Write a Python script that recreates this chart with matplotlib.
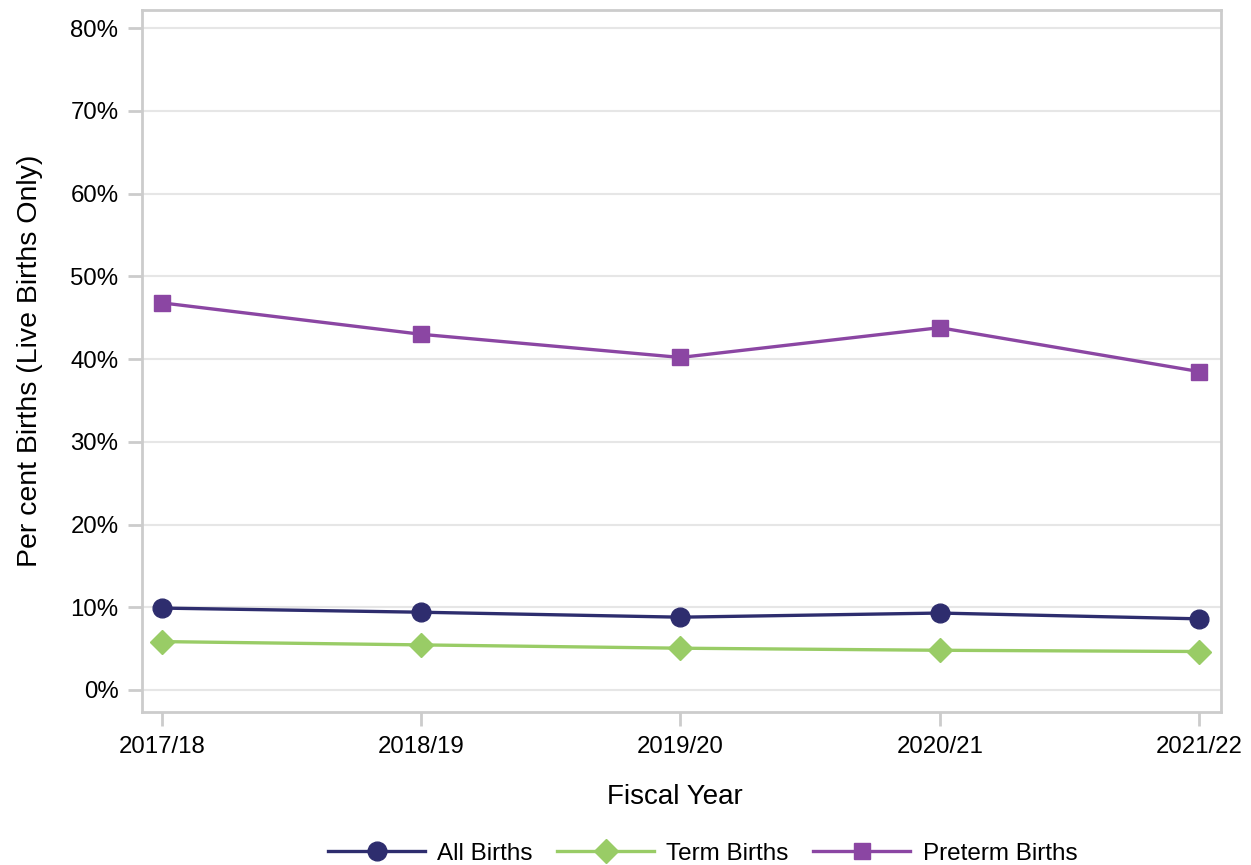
import matplotlib.pyplot as plt
from matplotlib.ticker import FuncFormatter

plt.rcParams['font.family'] = ['Liberation Sans', 'DejaVu Sans']

years = ["2017/18", "2018/19", "2019/20", "2020/21", "2021/22"]
all_births = [9.9, 9.4, 8.8, 9.3, 8.6]
term_births = [5.85, 5.45, 5.05, 4.8, 4.65]
preterm_births = [46.8, 43.0, 40.2, 43.8, 38.5]

navy = "#2e2d6e"
green = "#99cc66"
purple = "#8b46a3"
grey = "#cccccc"

fig = plt.figure(figsize=(12.51, 8.65), dpi=100)
ax = fig.add_axes([0.1135, 0.1769, 0.8625, 0.8115])

x = list(range(len(years)))
ax.plot(x, all_births, color=navy, lw=2.4, marker="o", ms=13.5, label="All Births", zorder=3)
ax.plot(x, term_births, color=green, lw=2.4, marker="D", ms=12.5, label="Term Births", zorder=3)
ax.plot(x, preterm_births, color=purple, lw=2.4, marker="s", ms=11, label="Preterm Births", zorder=3)

ax.set_xlim(-0.077, 4.085)
ax.set_ylim(-2.66, 82.2)
ax.set_xticks(x)
ax.set_xticklabels(years)
ax.set_yticks(range(0, 81, 10))
ax.yaxis.set_major_formatter(FuncFormatter(lambda v, p: "%d%%" % v))

ax.grid(axis="y", color="#e6e6e6", lw=1.5, zorder=0)
for s in ax.spines.values():
    s.set_color(grey)
    s.set_linewidth(2)
ax.tick_params(axis="both", colors=grey, width=2, length=10, labelsize=17.3, labelcolor="black")
ax.tick_params(axis="x", pad=7)
ax.tick_params(axis="y", pad=7)

fig.text(0.0240, 0.1769 + 0.8115 * 0.5, "Per cent Births (Live Births Only)", rotation=90,
         ha="center", va="center", fontsize=20.5)
fig.text(0.5395, 0.0786, "Fiscal Year", ha="center", va="center", fontsize=20)

fig.legend(loc="center", bbox_to_anchor=(0.5616, 0.013), ncol=3, frameon=False,
           fontsize=17.5, handlelength=4.0, handletextpad=0.5, columnspacing=1.0)

fig.savefig("out.png", dpi=100)
